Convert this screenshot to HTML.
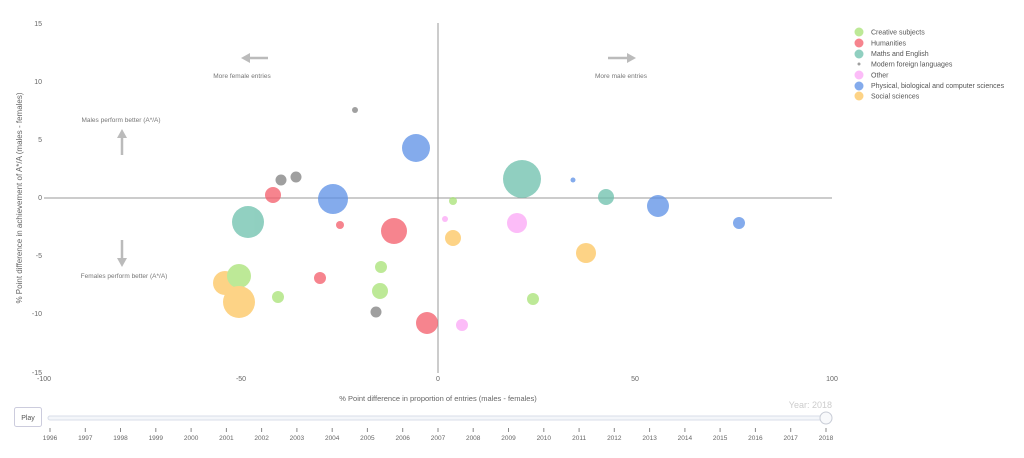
<!DOCTYPE html>
<html><head><style>body{margin:0;background:#fff}svg{font-family:"Liberation Sans",sans-serif}</style></head><body>
<svg width="1024" height="453" xmlns="http://www.w3.org/2000/svg">
<g font-size="7" fill="#666" text-anchor="end">
<text x="42" y="26">15</text><text x="42" y="84">10</text><text x="42" y="142">5</text><text x="42" y="200">0</text><text x="42" y="258">-5</text><text x="42" y="316">-10</text><text x="42" y="375">-15</text>
</g>
<g font-size="7" fill="#666" text-anchor="middle">
<text x="44" y="381">-100</text><text x="241" y="381">-50</text><text x="438" y="381">0</text><text x="635" y="381">50</text><text x="832" y="381">100</text>
<text x="438" y="401" font-size="7.5">% Point difference in proportion of entries (males - females)</text>
</g>
<text transform="translate(22,198) rotate(-90)" font-size="8" fill="#666" text-anchor="middle">% Point difference in achievement of A*/A (males - females)</text>
<line x1="438" y1="23" x2="438" y2="373" stroke="#999" stroke-width="1"/>
<line x1="44" y1="198" x2="832" y2="198" stroke="#999" stroke-width="1"/>
<g stroke="#bbb" stroke-width="2.5" fill="#bbb">
<line x1="248" y1="58" x2="268" y2="58"/><polygon points="241,58 250,53 250,63" stroke="none"/>
<line x1="608" y1="58" x2="628" y2="58"/><polygon points="636,58 627,53 627,63" stroke="none"/>
<line x1="122" y1="137" x2="122" y2="155"/><polygon points="122,129 117,138 127,138" stroke="none"/>
<line x1="122" y1="240" x2="122" y2="258"/><polygon points="122,267 117,258 127,258" stroke="none"/>
</g>
<g font-size="6.5" fill="#777" text-anchor="middle">
<text x="242" y="78">More female entries</text><text x="621" y="78">More male entries</text>
<text x="121" y="122">Males perform better (A*/A)</text><text x="124" y="278">Females perform better (A*/A)</text>
</g>
<g opacity="0.75">
<circle cx="355" cy="110" r="3" fill="#808080"/>
<circle cx="416" cy="148" r="14" fill="#5b90e6"/>
<circle cx="281" cy="180" r="5.5" fill="#808080"/>
<circle cx="296" cy="177" r="5.5" fill="#808080"/>
<circle cx="273" cy="195" r="8" fill="#f45b69"/>
<circle cx="333" cy="199" r="15" fill="#5b90e6"/>
<circle cx="248" cy="222" r="16" fill="#6cc0ac"/>
<circle cx="340" cy="225" r="4" fill="#f45b69"/>
<circle cx="394" cy="231" r="13" fill="#f45b69"/>
<circle cx="445" cy="219" r="3" fill="#fba6f6"/>
<circle cx="453" cy="201" r="4" fill="#a8e275"/>
<circle cx="453" cy="238" r="8" fill="#fdc55e"/>
<circle cx="522" cy="179" r="19" fill="#6cc0ac"/>
<circle cx="573" cy="180" r="2.5" fill="#5b90e6"/>
<circle cx="606" cy="197" r="8" fill="#6cc0ac"/>
<circle cx="658" cy="206" r="11" fill="#5b90e6"/>
<circle cx="739" cy="223" r="6" fill="#5b90e6"/>
<circle cx="517" cy="223" r="10" fill="#fba6f6"/>
<circle cx="586" cy="253" r="10" fill="#fdc55e"/>
<circle cx="225" cy="283" r="12" fill="#fdc55e"/>
<circle cx="239" cy="276" r="12" fill="#a8e275"/>
<circle cx="239" cy="302" r="16" fill="#fdc55e"/>
<circle cx="278" cy="297" r="6" fill="#a8e275"/>
<circle cx="320" cy="278" r="6" fill="#f45b69"/>
<circle cx="381" cy="267" r="6" fill="#a8e275"/>
<circle cx="380" cy="291" r="8" fill="#a8e275"/>
<circle cx="376" cy="312" r="5.5" fill="#808080"/>
<circle cx="427" cy="323" r="11" fill="#f45b69"/>
<circle cx="462" cy="325" r="6" fill="#fba6f6"/>
<circle cx="533" cy="299" r="6" fill="#a8e275"/>
</g>
<g font-size="7" fill="#555">
<g opacity="0.75">
<circle cx="859" cy="32" r="4.5" fill="#a8e275"/><circle cx="859" cy="43" r="4.5" fill="#f45b69"/><circle cx="859" cy="54" r="4.5" fill="#6cc0ac"/><circle cx="859" cy="64" r="1.5" fill="#808080"/><circle cx="859" cy="75" r="4.5" fill="#fba6f6"/><circle cx="859" cy="86" r="4.5" fill="#5b90e6"/><circle cx="859" cy="96" r="4.5" fill="#fdc55e"/>
</g>
<text x="871" y="34.5">Creative subjects</text><text x="871" y="45.5">Humanities</text><text x="871" y="56">Maths and English</text><text x="871" y="66.5">Modern foreign languages</text><text x="871" y="77.5">Other</text><text x="871" y="88">Physical, biological and computer sciences</text><text x="871" y="98.5">Social sciences</text>
</g>
<rect x="14.5" y="407.5" width="27" height="19" rx="2" fill="#fff" stroke="#ccd"/>
<text x="28" y="420" font-size="7" fill="#555" text-anchor="middle">Play</text>
<text x="832" y="408" font-size="9" fill="#ccc" text-anchor="end">Year: 2018</text>
<rect x="48" y="416" width="780" height="4" rx="2" fill="#f4f6fa" stroke="#d8dde8" stroke-width="1"/>
<circle cx="826" cy="418" r="6" fill="#f8f9fb" stroke="#c8ccd6"/>
<g stroke="#888" stroke-width="1">
<line x1="50" y1="428" x2="50" y2="432"/><line x1="85.3" y1="428" x2="85.3" y2="432"/><line x1="120.5" y1="428" x2="120.5" y2="432"/><line x1="155.8" y1="428" x2="155.8" y2="432"/><line x1="191.1" y1="428" x2="191.1" y2="432"/><line x1="226.4" y1="428" x2="226.4" y2="432"/><line x1="261.6" y1="428" x2="261.6" y2="432"/><line x1="296.9" y1="428" x2="296.9" y2="432"/><line x1="332.2" y1="428" x2="332.2" y2="432"/><line x1="367.4" y1="428" x2="367.4" y2="432"/><line x1="402.7" y1="428" x2="402.7" y2="432"/><line x1="438" y1="428" x2="438" y2="432"/><line x1="473.2" y1="428" x2="473.2" y2="432"/><line x1="508.5" y1="428" x2="508.5" y2="432"/><line x1="543.8" y1="428" x2="543.8" y2="432"/><line x1="579.1" y1="428" x2="579.1" y2="432"/><line x1="614.3" y1="428" x2="614.3" y2="432"/><line x1="649.6" y1="428" x2="649.6" y2="432"/><line x1="684.9" y1="428" x2="684.9" y2="432"/><line x1="720.1" y1="428" x2="720.1" y2="432"/><line x1="755.4" y1="428" x2="755.4" y2="432"/><line x1="790.7" y1="428" x2="790.7" y2="432"/><line x1="826" y1="428" x2="826" y2="432"/>
</g>
<g font-size="6.5" fill="#666" text-anchor="middle">
<text x="50" y="440">1996</text><text x="85.3" y="440">1997</text><text x="120.5" y="440">1998</text><text x="155.8" y="440">1999</text><text x="191.1" y="440">2000</text><text x="226.4" y="440">2001</text><text x="261.6" y="440">2002</text><text x="296.9" y="440">2003</text><text x="332.2" y="440">2004</text><text x="367.4" y="440">2005</text><text x="402.7" y="440">2006</text><text x="438" y="440">2007</text><text x="473.2" y="440">2008</text><text x="508.5" y="440">2009</text><text x="543.8" y="440">2010</text><text x="579.1" y="440">2011</text><text x="614.3" y="440">2012</text><text x="649.6" y="440">2013</text><text x="684.9" y="440">2014</text><text x="720.1" y="440">2015</text><text x="755.4" y="440">2016</text><text x="790.7" y="440">2017</text><text x="826" y="440">2018</text>
</g>
</svg>
</body></html>
